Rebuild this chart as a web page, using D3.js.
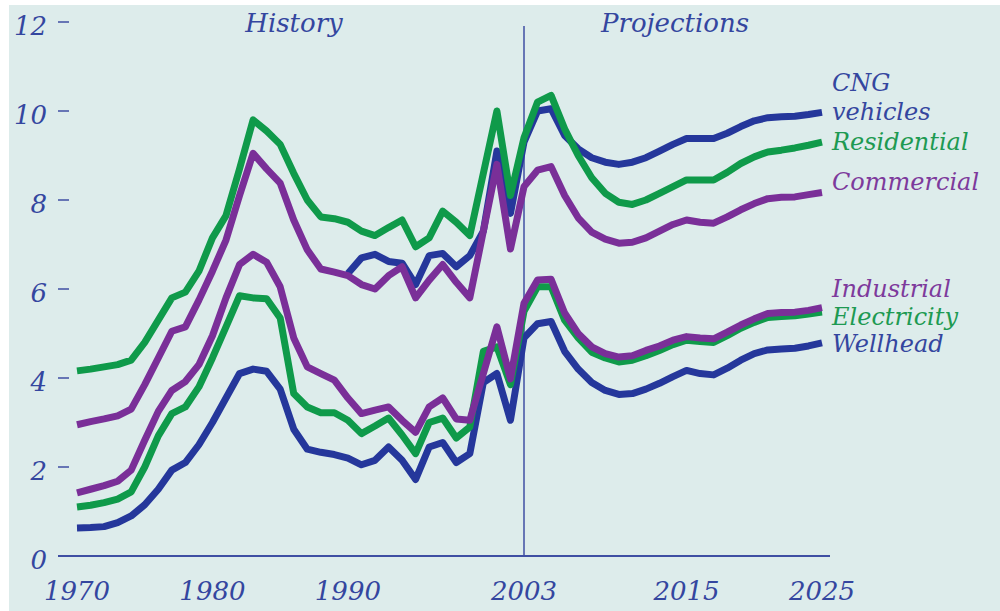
<!DOCTYPE html>
<html>
<head>
<meta charset="utf-8">
<script src="https://cdn.jsdelivr.net/npm/d3@7"></script>
<style>
  body { margin: 0; background: #fff; }
  text { font-family: "DejaVu Serif", serif; font-style: italic; }
</style>
</head>
<body>
<div id="chart"></div>
<script>
var years = [1970, 1971, 1972, 1973, 1974, 1975, 1976, 1977, 1978, 1979,
  1980, 1981, 1982, 1983, 1984, 1985, 1986, 1987, 1988, 1989,
  1990, 1991, 1992, 1993, 1994, 1995, 1996, 1997, 1998, 1999,
  2000, 2001, 2002, 2003, 2004, 2005, 2006, 2007, 2008, 2009,
  2010, 2011, 2012, 2013, 2014, 2015, 2016, 2017, 2018, 2019,
  2020, 2021, 2022, 2023, 2024, 2025];

var wellhead = [0.63, 0.64, 0.66, 0.75, 0.9, 1.15, 1.5, 1.93, 2.1, 2.5,
  3.0, 3.55, 4.1, 4.2, 4.15, 3.75, 2.85, 2.4, 2.33, 2.28,
  2.2, 2.05, 2.15, 2.45, 2.15, 1.72, 2.45, 2.55, 2.1, 2.3,
  3.9, 4.1, 3.05, 4.9, 5.22, 5.27, 4.6, 4.2, 3.9, 3.72,
  3.63, 3.65, 3.75, 3.88, 4.03, 4.17, 4.1, 4.07, 4.22, 4.4,
  4.55, 4.63, 4.65, 4.67, 4.72, 4.79];

var electricity = [1.1, 1.14, 1.2, 1.28, 1.44, 2.0, 2.7, 3.2, 3.35, 3.8,
  4.45, 5.15, 5.85, 5.8, 5.78, 5.35, 3.65, 3.35, 3.22, 3.22,
  3.05, 2.75, 2.92, 3.1, 2.72, 2.3, 3.0, 3.1, 2.65, 2.9,
  4.6, 4.7, 3.85, 5.5, 6.05, 6.05, 5.3, 4.9, 4.58, 4.45,
  4.36, 4.4, 4.5, 4.62, 4.75, 4.85, 4.82, 4.8, 4.95, 5.12,
  5.25, 5.36, 5.38, 5.4, 5.44, 5.48];

var industrial = [1.42, 1.5, 1.58, 1.68, 1.93, 2.6, 3.25, 3.72, 3.92, 4.3,
  4.95, 5.8, 6.55, 6.78, 6.6, 6.05, 4.9, 4.25, 4.1, 3.95,
  3.55, 3.2, 3.28, 3.35, 3.05, 2.78, 3.35, 3.55, 3.08, 3.05,
  4.1, 5.15, 3.98, 5.68, 6.2, 6.22, 5.46, 5.0, 4.7, 4.55,
  4.47, 4.5, 4.62, 4.72, 4.85, 4.93, 4.9, 4.88, 5.03, 5.19,
  5.33, 5.45, 5.47, 5.48, 5.52, 5.58];

var commercial = [2.95, 3.02, 3.08, 3.15, 3.3, 3.85, 4.45, 5.05, 5.15, 5.75,
  6.4, 7.1, 8.1, 9.05, 8.7, 8.38, 7.55, 6.88, 6.45, 6.38,
  6.3, 6.1, 6.0, 6.3, 6.5, 5.8, 6.2, 6.55, 6.15, 5.8,
  7.3, 8.8, 6.9, 8.3, 8.67, 8.75, 8.1, 7.6, 7.28, 7.12,
  7.03, 7.05, 7.15, 7.3, 7.45, 7.55, 7.5, 7.48, 7.62, 7.78,
  7.92, 8.03, 8.06, 8.07, 8.12, 8.17];

var residential = [4.16, 4.2, 4.25, 4.3, 4.4, 4.8, 5.3, 5.8, 5.93, 6.4,
  7.15, 7.65, 8.7, 9.8, 9.55, 9.25, 8.6, 8.0, 7.62, 7.58,
  7.5, 7.3, 7.2, 7.38, 7.55, 6.95, 7.15, 7.75, 7.5, 7.2,
  8.6, 10.0, 8.1, 9.4, 10.2, 10.35, 9.6, 9.0, 8.5, 8.15,
  7.95, 7.9, 8.0, 8.15, 8.3, 8.45, 8.45, 8.45, 8.62, 8.82,
  8.97, 9.08, 9.12, 9.17, 9.23, 9.3];

var cng = [null, null, null, null, null, null, null, null, null, null,
  null, null, null, null, null, null, null, null, null, null,
  6.35, 6.7, 6.78, 6.62, 6.58, 6.1, 6.75, 6.8, 6.5, 6.75,
  7.3, 9.1, 7.7, 9.3, 10.0, 10.05, 9.45, 9.15, 8.95, 8.85,
  8.8, 8.85, 8.95, 9.1, 9.25, 9.38, 9.38, 9.38, 9.5, 9.65,
  9.78, 9.85, 9.87, 9.88, 9.92, 9.97];

var xTicks = [1970, 1980, 1990, 2003, 2015, 2025];
var yTicks = [0, 2, 4, 6, 8, 10, 12];

var blue = "#25379b",
  green = "#0f9a4a",
  purple = "#7a2f98",
  axisColor = "#3f4fa3";

// drawing order: blue under green under purple
var series = [
  { name: "Wellhead", values: wellhead, color: blue, labels: [{ t: "Wellhead", y: 352 }], textColor: "#34469f" },
  { name: "CNG", values: cng, color: blue, labels: [{ t: "CNG", y: 91 }, { t: "vehicles", y: 120 }], textColor: "#34469f" },
  { name: "Electricity", values: electricity, color: green, labels: [{ t: "Electricity", y: 325 }], textColor: "#1d9a52" },
  { name: "Residential", values: residential, color: green, labels: [{ t: "Residential", y: 150 }], textColor: "#1d9a52" },
  { name: "Industrial", values: industrial, color: purple, labels: [{ t: "Industrial", y: 297 }], textColor: "#7d3a9c" },
  { name: "Commercial", values: commercial, color: purple, labels: [{ t: "Commercial", y: 190 }], textColor: "#7d3a9c" }
];

var width = 1000,
  height = 611;

var svg = d3.select("#chart").append("svg")
  .attr("width", width)
  .attr("height", height);

svg.append("rect")
  .attr("x", 9)
  .attr("y", 5)
  .attr("width", width - 9)
  .attr("height", height - 5)
  .style("fill", "#ddeceb");

var x = d3.scaleLinear().domain([1970, 2025]).range([77, 822]);
var y = d3.scaleLinear().domain([0, 12]).range([556, 22]);

// y ticks as short dashes
svg.append("g").selectAll("line")
  .data(yTicks.filter(function(d) { return d > 0; }))
  .enter().append("line")
  .attr("x1", 58)
  .attr("x2", 69)
  .attr("y1", function(d) { return y(d); })
  .attr("y2", function(d) { return y(d); })
  .style("stroke", axisColor)
  .style("stroke-width", 1.5);

svg.append("g").selectAll("text")
  .data(yTicks)
  .enter().append("text")
  .attr("x", 47)
  .attr("y", function(d) { return y(d) + 13; })
  .attr("text-anchor", "end")
  .style("font-size", "26px")
  .style("fill", "#34469f")
  .text(function(d) { return d; });

// baseline
svg.append("line")
  .attr("x1", 58)
  .attr("x2", 830)
  .attr("y1", y(0))
  .attr("y2", y(0))
  .style("stroke", axisColor)
  .style("stroke-width", 2);

svg.append("g").selectAll("text")
  .data(xTicks)
  .enter().append("text")
  .attr("x", function(d) { return x(d); })
  .attr("y", 600)
  .attr("text-anchor", "middle")
  .style("font-size", "26px")
  .style("fill", "#34469f")
  .text(function(d) { return d; });

// history / projections divider
svg.append("line")
  .attr("x1", x(2003))
  .attr("x2", x(2003))
  .attr("y1", 26)
  .attr("y2", y(0))
  .style("stroke", axisColor)
  .style("stroke-width", 1.5);

svg.append("text")
  .attr("x", 294)
  .attr("y", 32)
  .attr("text-anchor", "middle")
  .style("font-size", "26px")
  .style("fill", "#34469f")
  .text("History");

svg.append("text")
  .attr("x", 675)
  .attr("y", 32)
  .attr("text-anchor", "middle")
  .style("font-size", "26px")
  .style("fill", "#34469f")
  .text("Projections");

var line = d3.line()
  .defined(function(d) { return d.v != null; })
  .x(function(d) { return x(d.year); })
  .y(function(d) { return y(d.v); });

svg.append("g").selectAll("path")
  .data(series)
  .enter().append("path")
  .attr("d", function(s) {
    return line(years.map(function(yr, i) { return { year: yr, v: s.values[i] }; }));
  })
  .style("fill", "none")
  .style("stroke", function(s) { return s.color; })
  .style("stroke-width", 7)
  .style("stroke-linejoin", "round")
  .style("stroke-linecap", "butt");

// end labels, stacked tight as in the original
series.forEach(function(s) {
  s.labels.forEach(function(l) {
    svg.append("text")
      .attr("x", 832)
      .attr("y", l.y)
      .style("font-size", "24px")
      .style("fill", s.textColor)
      .text(l.t);
  });
});
</script>
</body>
</html>
